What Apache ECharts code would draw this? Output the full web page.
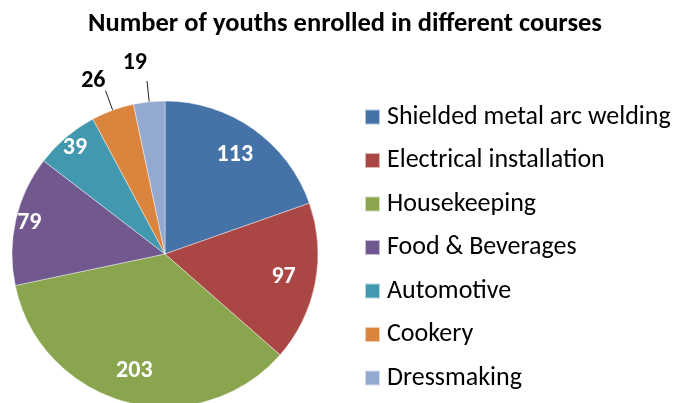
<!DOCTYPE html>
<html>
<head>
<meta charset="utf-8">
<script src="https://cdn.jsdelivr.net/npm/echarts@6/dist/echarts.min.js"></script>
<style>
  html, body { margin: 0; padding: 0; background: #fff; }
  #chart { width: 680px; height: 403px; }
</style>
</head>
<body>
<div id="chart"></div>
<script>
// data
const courses = [
  'Shielded metal arc welding',
  'Electrical installation',
  'Housekeeping',
  'Food & Beverages',
  'Automotive',
  'Cookery',
  'Dressmaking'
];
const enrolled = [113, 97, 203, 79, 39, 26, 19];
const outsideLabelCourses = ['Cookery', 'Dressmaking'];

const colors = ['#4572A7', '#AA4643', '#89A54E', '#71588F', '#4198AF', '#DB843D', '#93A9CF'];
const FONT = 'Carlito, Lato, sans-serif';
const CENTER = [165, 254];
const R = 153;
// how far each outside label sits above the end of its leader line
const labelLift = { Cookery: 9, Dressmaking: 18 };
// in-slice labels sit at different depths, as Excel placed them
const labelRings = [
  { ratio: 0.77, courses: ['Shielded metal arc welding', 'Electrical installation', 'Housekeeping'] },
  { ratio: 0.89, courses: ['Food & Beverages', 'Automotive'] }
];

const chart = echarts.init(document.getElementById('chart'), null, { renderer: 'canvas' });

const pieData = courses.map((name, i) => {
  const outside = outsideLabelCourses.includes(name);
  return {
    name,
    value: enrolled[i],
    label: {
      show: outside,
      formatter: '{v|{c}}\n{g| }',
      rich: { g: { height: 2 * (labelLift[name] || 0), fontSize: 1 } }
    },
    labelLine: { show: outside }
  };
});

// same values again, only used to place the white in-slice labels
const ringSeries = labelRings.map((ring) => ({
  type: 'pie',
  center: CENTER,
  radius: [0, R * ring.ratio * 2],
  startAngle: 90,
  clockwise: true,
  silent: true,
  avoidLabelOverlap: false,
  data: courses.map((name, i) => ({
    name,
    value: enrolled[i],
    label: { show: ring.courses.includes(name) }
  })),
  itemStyle: { color: 'transparent', borderWidth: 0 },
  label: {
    position: 'inside',
    formatter: '{c}',
    fontFamily: FONT,
    fontSize: 24,
    fontWeight: 'bold',
    color: '#fff'
  },
  labelLine: { show: false }
}));

chart.setOption({
  animation: false,
  color: colors,
  title: {
    text: 'Number of youths enrolled in different courses',
    left: 340,
    top: 6,
    textAlign: 'center',
    textStyle: { fontFamily: FONT, fontSize: 26.5, fontWeight: 'bold', color: '#000' }
  },
  legend: {
    orient: 'vertical',
    left: 359,
    top: 98,
    data: courses,
    icon: 'rect',
    itemWidth: 15,
    itemHeight: 15,
    itemGap: 15.5,
    textStyle: { fontFamily: FONT, fontSize: 26, color: '#000', lineHeight: 28, padding: [0, 0, 0, 2] }
  },
  series: [
    {
      type: 'pie',
      center: CENTER,
      radius: [0, R],
      startAngle: 90,
      clockwise: true,
      avoidLabelOverlap: false,
      data: pieData,
      itemStyle: { borderColor: 'rgba(255,255,255,0.6)', borderWidth: 0.7 },
      label: {
        position: 'outside',
        distanceToLabelLine: 0,
        fontFamily: FONT,
        fontSize: 24,
        fontWeight: 'bold',
        color: '#000',
        rich: {
          v: { fontFamily: FONT, fontSize: 24, fontWeight: 'bold', color: '#000', lineHeight: 26 }
        }
      },
      labelLine: {
        length: 21,
        length2: 0,
        smooth: false,
        lineStyle: { color: '#222', width: 1 }
      }
    },
    ...ringSeries
  ]
});
</script>
</body>
</html>
